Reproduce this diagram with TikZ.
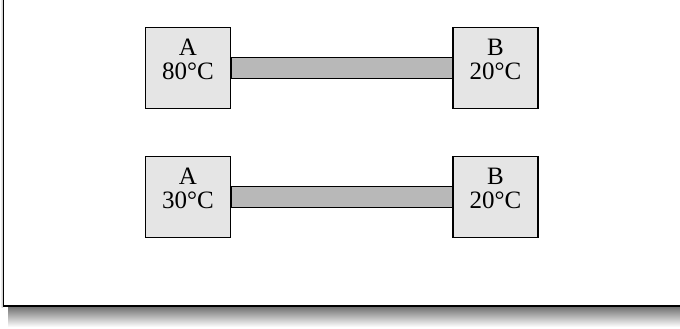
\documentclass[tikz,border=0pt]{standalone}
\usepackage{fontspec}
\setmainfont{Liberation Serif}
\usepackage{tikz}

\definecolor{boxgray}{gray}{0.9}
\definecolor{rodgray}{gray}{0.72}

\tikzset{
  block/.style={draw,line width=1.5pt,fill=boxgray,minimum width=85pt,minimum height=81pt,inner sep=0pt},
  temp/.style={align=center,font=\fontsize{25}{24}\selectfont,yshift=9pt},
  rod/.style={draw,line width=1.5pt,fill=rodgray}
}

\begin{document}
\begin{tikzpicture}[x=1pt,y=-1pt,node distance=129pt]
  \useasboundingbox (0,0) rectangle (680,329);
  % frame with its shadow
  \shade[top color=black!55,bottom color=white] (8,307) rectangle (680,327);
  \shade[left color=white,right color=black!25] (0,0) rectangle (3,307);
  \fill[white] (3.5,-5) rectangle (690,306);
  \draw[line width=1.8pt] (3.5,-5) -- (3.5,306) -- (690,306);

  \node[block,label={[temp]center:A\\80°C}] at (188,68) (hotA) {};
  \node[block,right of=hotA,node distance=307.5pt,label={[temp]center:B\\20°C}] (coldB) {};
  \node[block,below of=hotA,label={[temp]center:A\\30°C}] (warmA) {};
  \node[block,below of=coldB,label={[temp]center:B\\20°C}] (coolB) {};

  \draw[rod] ([yshift=10.5pt]hotA.east) rectangle ([yshift=-10.5pt]coldB.west);
  \draw[rod] ([yshift=10.5pt]warmA.east) rectangle ([yshift=-10.5pt]coolB.west);
\end{tikzpicture}
\end{document}
